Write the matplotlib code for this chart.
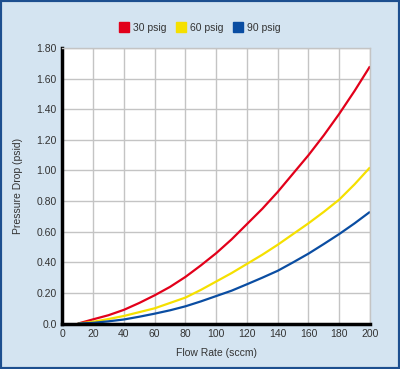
import matplotlib
matplotlib.use('Agg')
import matplotlib.pyplot as plt
from matplotlib.patches import Rectangle
from matplotlib.lines import Line2D

# flow rate (sccm) and pressure drop (psid)
flow = [10, 20, 30, 40, 50, 60, 70, 80, 90, 100, 110, 120, 130, 140, 150, 160, 170, 180, 190, 200]
drop_30 = [0.0, 0.028, 0.055, 0.09, 0.135, 0.185, 0.24, 0.305, 0.38, 0.46,
           0.55, 0.65, 0.75, 0.86, 0.98, 1.10, 1.23, 1.37, 1.52, 1.68]
drop_60 = [0.0, 0.012, 0.03, 0.05, 0.075, 0.10, 0.135, 0.17, 0.22, 0.275,
           0.33, 0.39, 0.45, 0.515, 0.585, 0.655, 0.73, 0.81, 0.91, 1.02]
drop_90 = [0.0, 0.005, 0.015, 0.027, 0.045, 0.065, 0.087, 0.113, 0.145, 0.18,
           0.215, 0.257, 0.30, 0.345, 0.40, 0.457, 0.52, 0.585, 0.655, 0.73]

series_labels = ['30 psig', '60 psig', '90 psig']
colors = ['#e2001a', '#f5e000', '#0a4da2']

x_ticks = list(range(0, 201, 20))
y_ticks = [0.0, 0.2, 0.4, 0.6, 0.8, 1.0, 1.2, 1.4, 1.6, 1.8]
y_tick_labels = ['0.0', '0.20', '0.40', '0.60', '0.80', '1.00', '1.20', '1.40', '1.60', '1.80']

plt.rcParams['font.family'] = ['Liberation Sans', 'DejaVu Sans']

bg = '#d4e4f1'
txt = '#333333'
grid_c = '#c4c4c4'

fig = plt.figure(figsize=(4.0, 3.69), dpi=100)
fig.patch.set_facecolor(bg)

ax = fig.add_axes([0.156, 0.123, 0.769, 0.747])
ax.set_facecolor('white')

for ys, c, lab in zip([drop_30, drop_60, drop_90], colors, series_labels):
    ax.plot(flow, ys, color=c, linewidth=1.6, label=lab, solid_capstyle='butt')

ax.set_xlim(0, 200)
ax.set_ylim(0, 1.8)
ax.set_xticks(x_ticks)
ax.set_yticks(y_ticks)
ax.set_yticklabels(y_tick_labels)
ax.tick_params(axis='both', length=0, labelsize=7.5, colors=txt, pad=4)
ax.grid(True, color=grid_c, linewidth=1.0)
ax.set_axisbelow(True)

for side in ['top', 'right']:
    ax.spines[side].set_color(grid_c)
    ax.spines[side].set_linewidth(1.0)
for side in ['left', 'bottom']:
    ax.spines[side].set_color('black')
    ax.spines[side].set_linewidth(2.5)

ax.set_xlabel('Flow Rate (sccm)', fontsize=7.5, color=txt, labelpad=6)
ax.set_ylabel('Pressure Drop (psid)', fontsize=7.5, color=txt, labelpad=10)

handles = [Line2D([0], [0], marker='s', linestyle='none', markersize=6.5,
                  markerfacecolor=c, markeredgecolor=c) for c in colors]
fig.legend(handles, series_labels, loc='center', bbox_to_anchor=(0.5, 0.925),
           ncol=3, frameon=False, fontsize=7.5, handlelength=0.9,
           handletextpad=0.45, columnspacing=0.9, labelcolor=txt)

border = Rectangle((0, 0), 1, 1, transform=fig.transFigure, fill=False,
                   edgecolor='#1d4f8f', linewidth=3)
fig.patches.append(border)

fig.savefig('out.png', dpi=100, facecolor=bg)
